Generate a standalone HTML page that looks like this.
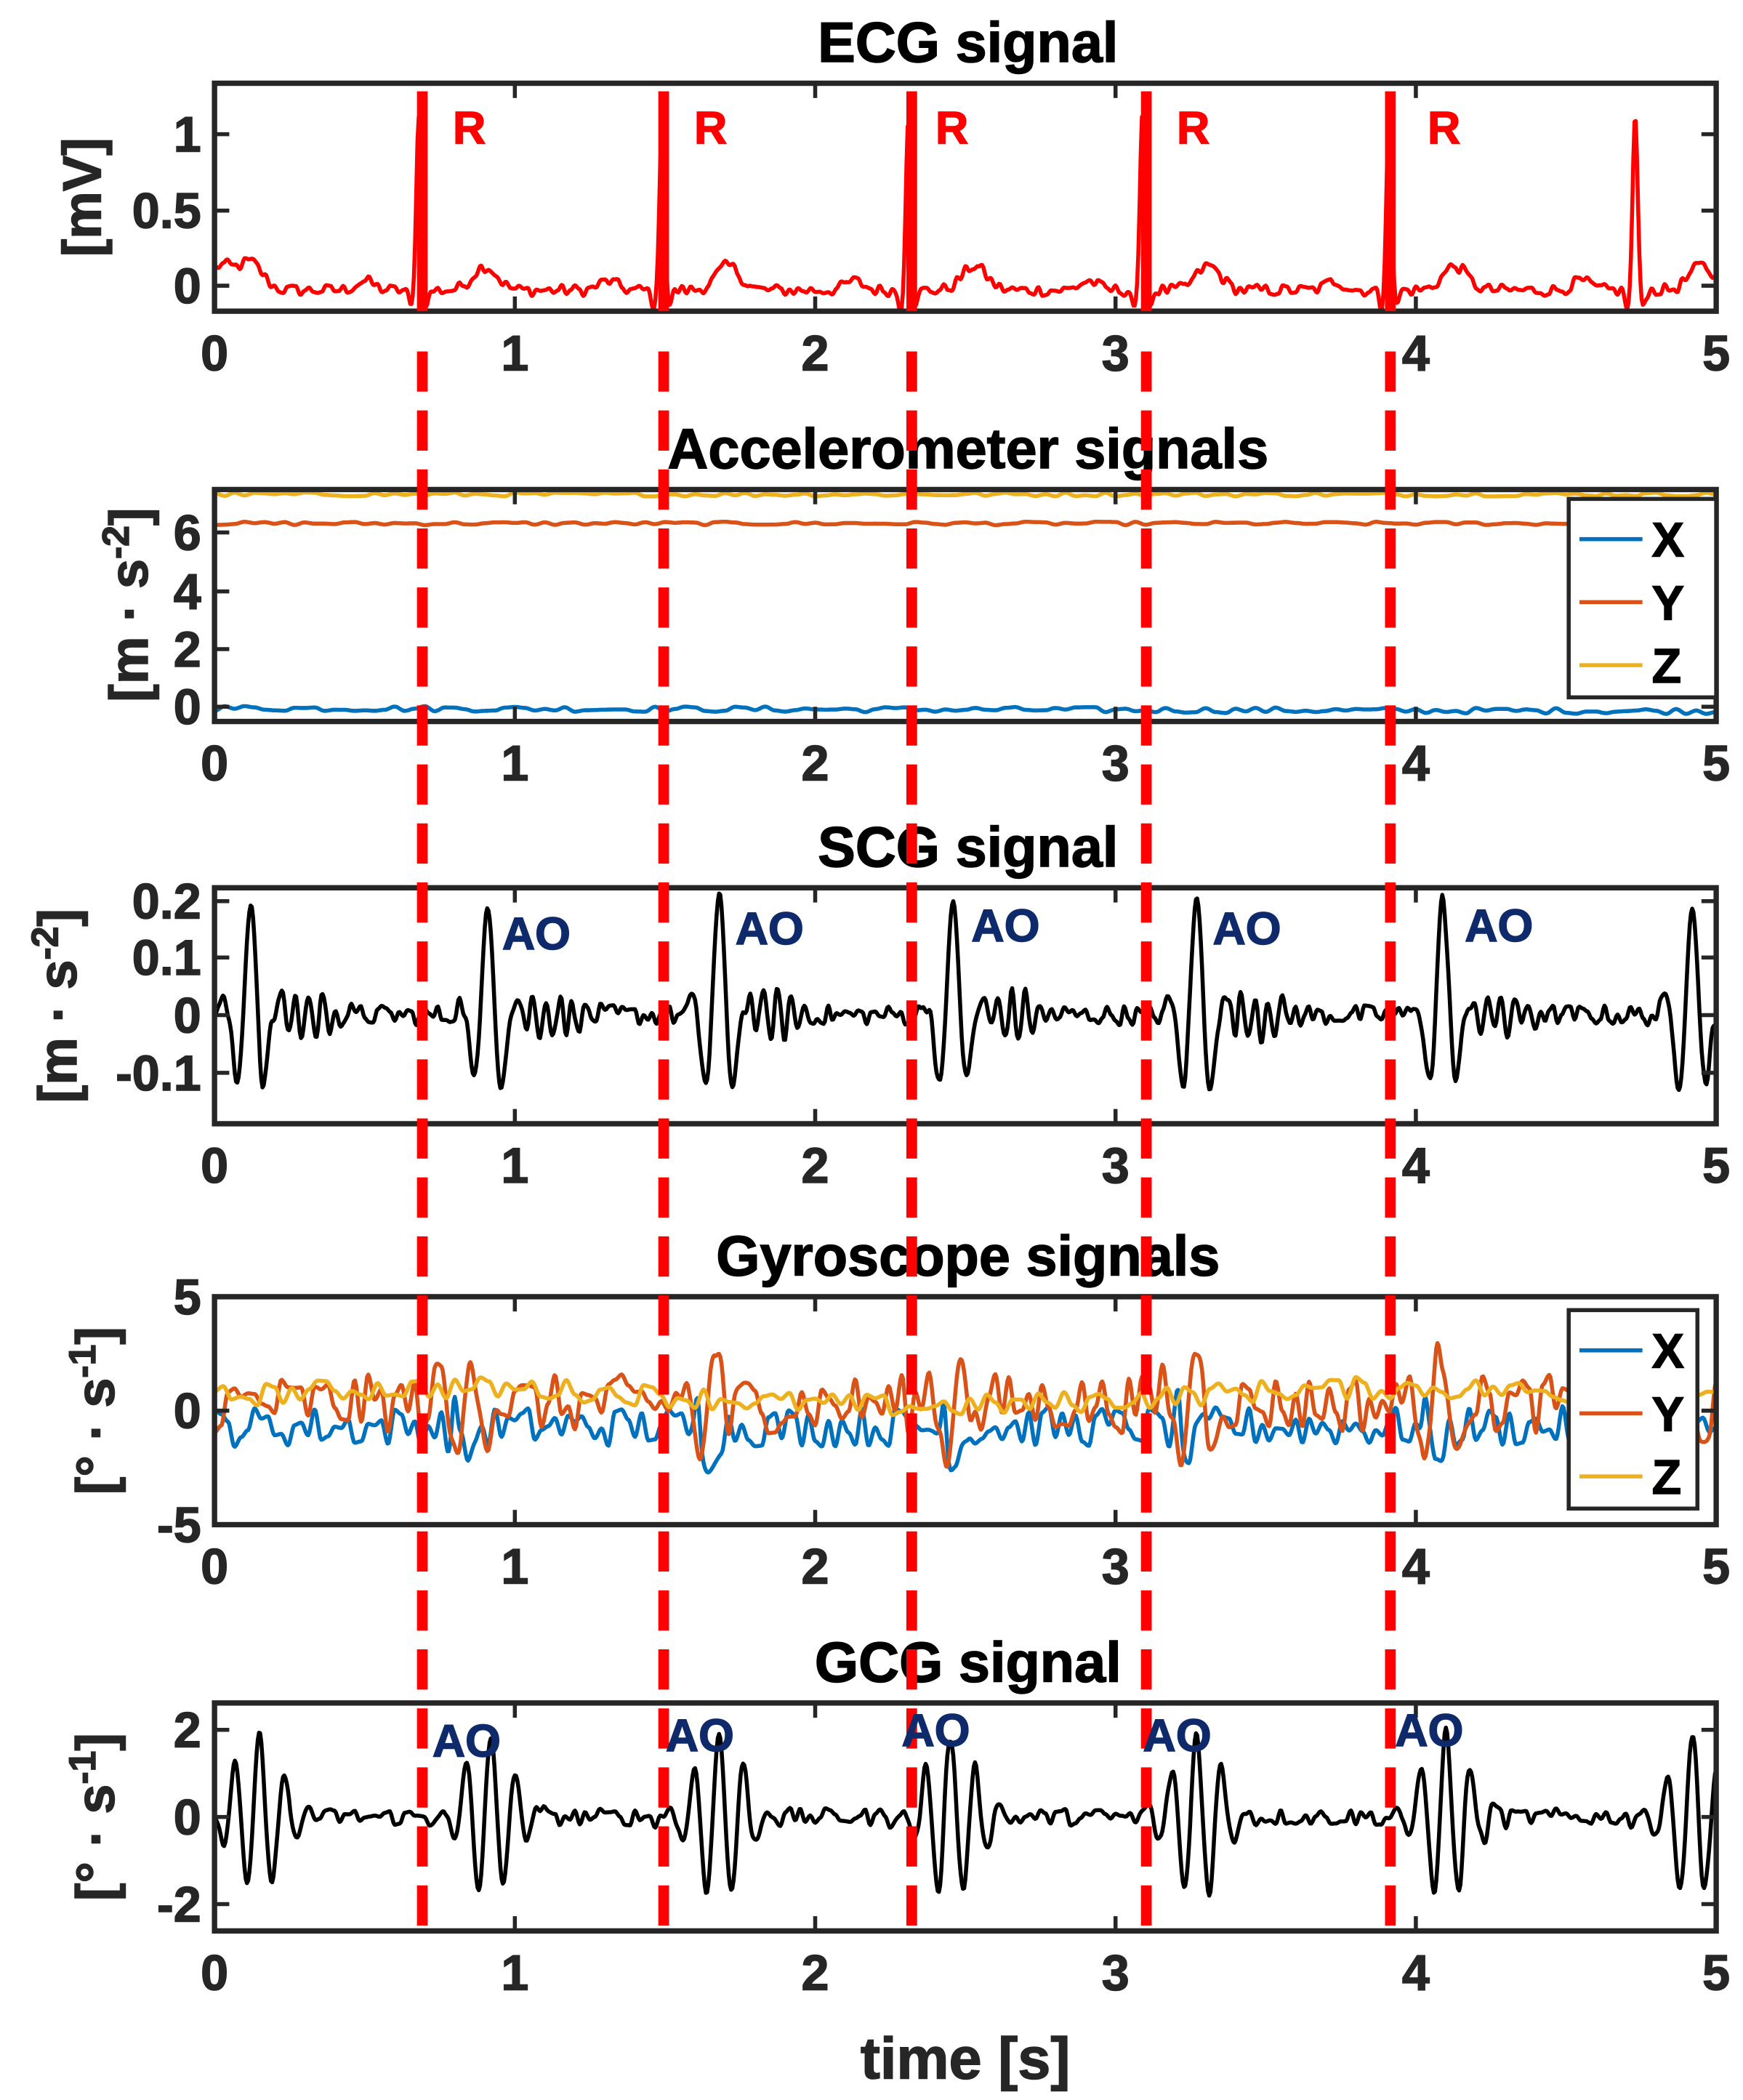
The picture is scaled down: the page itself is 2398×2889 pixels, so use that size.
<!DOCTYPE html>
<html><head><meta charset="utf-8"><style>
html,body{margin:0;padding:0;background:#fff}
svg{display:block}
text{font-family:"Liberation Sans",sans-serif;font-weight:bold;fill:#262626}
</style></head><body>
<svg id="s" width="2398" height="2889" viewBox="0 0 1300 1566" xmlns="http://www.w3.org/2000/svg">
<rect width="1300" height="1566" fill="#fff"/>
<defs>
<clipPath id="c1"><rect x="160" y="62" width="1120" height="170"/></clipPath>
<clipPath id="c2"><rect x="160" y="365" width="1120" height="173"/></clipPath>
<clipPath id="c3"><rect x="160" y="662" width="1120" height="176"/></clipPath>
<clipPath id="c4"><rect x="160" y="967" width="1120" height="170"/></clipPath>
<clipPath id="c5"><rect x="160" y="1270" width="1120" height="170"/></clipPath>
</defs>
<g id="plots"></g>
<g id="frames"></g>
</svg>
<script>
var NS="http://www.w3.org/2000/svg";
var seed=12345;function rnd(){seed=(seed*1103515245+12345)%2147483648;return seed/2147483648;}
function noise(){return rnd()*2-1;}
var plots=document.getElementById('plots'),frames=document.getElementById('frames');
function el(tag,attrs,parent,txt){var e=document.createElementNS(NS,tag);for(var k in attrs)e.setAttribute(k,attrs[k]);if(txt!==undefined)e.textContent=txt;(parent||plots).appendChild(e);return e;}
function X(t){return 160+t*224;}
var N=1250;
function line(f,ymap,color,clip,w){var d="";for(var i=0;i<=N;i++){var t=i*5/N;var v=f(t);d+=(i?"L":"M")+X(t).toFixed(1)+","+ymap(v).toFixed(1);}
el('path',{d:d,fill:'none',stroke:color,'stroke-width':w||3,'stroke-linejoin':'round','clip-path':'url(#'+clip+')'});}
function smoothNoise(amp,freq){var pts=[];var n=Math.ceil(5*freq)+2;for(var i=0;i<n;i++)pts.push(noise()*amp);return function(t){var x=t*freq;var i=Math.floor(x);var f=x-i;f=f*f*(3-2*f);return pts[i]*(1-f)+pts[i+1]*f;};}
var R=[0.68,1.49,2.31,3.09,3.91,4.73];
function g(t,c,s){return Math.exp(-(t-c)*(t-c)/(2*s*s));}
// ECG
var en=smoothNoise(0.04,70);
line(function(t){var v=-0.03+en(t);for(var k=-1;k<R.length;k++){var r=k<0?-0.2:R[k];v+=1.15*g(t,r,0.008)-0.12*g(t,r-0.025,0.008)-0.1*g(t,r+0.025,0.008)+0.16*g(t,r+0.22,0.04)+0.06*g(t,r-0.18,0.03);}
if(t<0.3)v+=0.18*g(t,0.12,0.04);return v;},function(v){return 213-v*113;},'#ff0000','c1',3);
// Accel
var ax=smoothNoise(0.1,30),ay=smoothNoise(0.06,30),az=smoothNoise(0.07,30);
function ya(v){return 527-v*21.7;}
line(function(t){return -0.05+ax(t)-0.02*t;},ya,'#0072bd','c2',3);
line(function(t){return 6.3+ay(t);},ya,'#d95319','c2',3);
line(function(t){return 7.3+az(t);},ya,'#edb120','c2',3);
// SCG
var sn=smoothNoise(0.018,70);
var scgP=[0.12,0.91,1.68,2.46,3.27,4.09,4.92];
line(function(t){var v=sn(t);for(var k=0;k<scgP.length;k++){var d=t-scgP[k];var env=Math.exp(-d*d/(2*0.045*0.045));v+=0.2*env*Math.cos(2*Math.PI*d*10)+0.035*Math.exp(-(d-0.2)*(d-0.2)/0.012)*Math.sin(2*Math.PI*d*22);}return v;},function(v){return 757-v*428;},'#000','c3',3);
// Gyro
var g1=smoothNoise(0.9,45),g2=smoothNoise(1.3,45),g3=smoothNoise(0.5,35);
function yg(v){return 1052-v*17;}
line(function(t){var v=-0.7+g1(t);for(var k=0;k<R.length;k++)v+=-1.2*g(t,R[k]+0.15,0.03)+1.8*g(t,R[k]+0.12,0.008);return v;},yg,'#0072bd','c4',3);
line(function(t){var v=0.3+g2(t);for(var k=0;k<R.length;k++){var d=t-R[k]-0.15;v+=3*Math.exp(-d*d/0.006)*Math.sin(2*Math.PI*d*9);}return v;},yg,'#d95319','c4',3);
line(function(t){return 0.6+g3(t)+0.4*Math.sin(t*2);},yg,'#edb120','c4',3);
// GCG
var gn=smoothNoise(0.2,60);
var gcP=[0.15,0.92,1.68,2.45,3.27,4.1,4.92];
line(function(t){var v=gn(t);for(var k=0;k<gcP.length;k++){var d=t-gcP[k];var env=Math.exp(-d*d/(2*0.08*0.08));v+=1.9*env*Math.cos(2*Math.PI*d*12);}return v;},function(v){return 1355-v*32.5;},'#000','c5',3);
// frames
var panels=[[62,232,'ECG signal'],[365,538,'Accelerometer signals'],[662,838,'SCG signal'],[967,1137,'Gyroscope signals'],[1270,1440,'GCG signal']];
var yt=[
 [[100,'1'],[157,'0.5'],[213,'0']],
 [[397,'6'],[441,'4'],[484,'2'],[527,'0']],
 [[672,'0.2'],[714,'0.1'],[757,'0'],[800,'-0.1']],
 [[967,'5'],[1052,'0'],[1137,'-5']],
 [[1290,'2'],[1355,'0'],[1420,'-2']]];
panels.forEach(function(p,i){
 el('rect',{x:160,y:p[0],width:1120,height:p[1]-p[0],fill:'none',stroke:'#262626','stroke-width':4},frames);
 el('text',{x:722,y:p[0]-16,'text-anchor':'middle','font-size':42,'stroke':'#000','stroke-width':0.8,style:'fill:#000'},frames,p[2]);
 for(var k=0;k<=5;k++){var x=X(k);
  el('line',{x1:x,y1:p[1],x2:x,y2:p[1]-11,stroke:'#262626','stroke-width':3},frames);
  el('line',{x1:x,y1:p[0],x2:x,y2:p[0]+11,stroke:'#262626','stroke-width':3},frames);
  el('text',{x:x,y:p[1]+44,'text-anchor':'middle','font-size':37,'stroke':'#262626','stroke-width':0.8},frames,String(k));}
 yt[i].forEach(function(q){
  el('line',{x1:160,y1:q[0],x2:171,y2:q[0],stroke:'#262626','stroke-width':3},frames);
  el('line',{x1:1280,y1:q[0],x2:1269,y2:q[0],stroke:'#262626','stroke-width':3},frames);
  el('text',{x:150,y:q[0]+13,'text-anchor':'end','font-size':37,'stroke':'#262626','stroke-width':0.8},frames,q[1]);});
});
function ylab(x,y,html){var t=el('text',{x:0,y:0,'text-anchor':'middle','font-size':40,'stroke':'#262626','stroke-width':0.8,transform:'translate('+x+','+y+') rotate(-90)'},frames);t.innerHTML=html;}
ylab(75,147,'[mV]');
ylab(110,451,'[m · s<tspan dy="-14" font-size="28">-2</tspan><tspan dy="14">]</tspan>');
ylab(57,750,'[m · s<tspan dy="-14" font-size="28">-2</tspan><tspan dy="14">]</tspan>');
ylab(85,1052,'[° · s<tspan dy="-14" font-size="28">-1</tspan><tspan dy="14">]</tspan>');
ylab(85,1355,'[° · s<tspan dy="-14" font-size="28">-1</tspan><tspan dy="14">]</tspan>');
el('text',{x:720,y:1550,'text-anchor':'middle','font-size':44,'stroke':'#262626','stroke-width':0.8},frames,'time [s]');
function legend(x,y,w,h){el('rect',{x:x,y:y,width:w,height:h,fill:'#fff',stroke:'#262626','stroke-width':3},frames);
 var cs=['#0072bd','#d95319','#edb120'],ls=['X','Y','Z'];
 for(var i=0;i<3;i++){var yy=y+30+i*47;el('line',{x1:x+8,y1:yy,x2:x+55,y2:yy,stroke:cs[i],'stroke-width':3},frames);
 el('text',{x:x+62,y:yy+13,'font-size':36,'stroke':'#000','stroke-width':0.8,style:'fill:#000'},frames,ls[i]);}}
legend(1170,372,110,148);
legend(1170,977,96,148);
[315,495,680,855,1037].forEach(function(x){
 el('line',{x1:x,y1:68,x2:x,y2:232,stroke:'#ff0000','stroke-width':8},frames);
 el('line',{x1:x,y1:262,x2:x,y2:1443,stroke:'#ff0000','stroke-width':8,'stroke-dasharray':'30,14'},frames);});
[350,530,710,890,1077].forEach(function(x){el('text',{x:x,y:107,'text-anchor':'middle','font-size':34,'stroke':'#ff0000','stroke-width':0.8,style:'fill:#ff0000'},frames,'R');});
[[400,708],[574,704],[750,702],[930,704],[1118,702]].forEach(function(p){el('text',{x:p[0],y:p[1],'text-anchor':'middle','font-size':34,'stroke':'#0e2a6b','stroke-width':0.8,style:'fill:#0e2a6b'},frames,'AO');});
[[348,1310],[522,1306],[698,1302],[878,1306],[1066,1302]].forEach(function(p){el('text',{x:p[0],y:p[1],'text-anchor':'middle','font-size':34,'stroke':'#0e2a6b','stroke-width':0.8,style:'fill:#0e2a6b'},frames,'AO');});
</script>
</body></html>
